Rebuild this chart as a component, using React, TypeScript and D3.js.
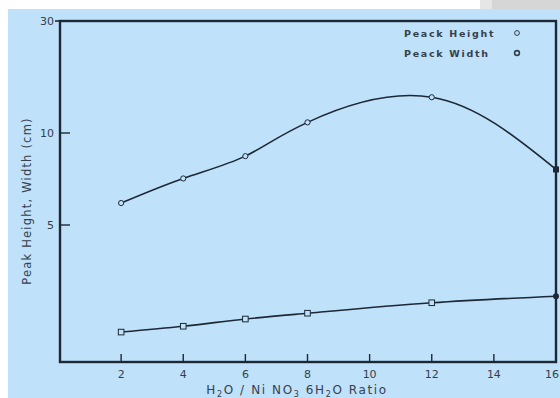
import React from "react";
import * as d3 from "d3";

// values
const ratios = [2, 4, 6, 8, 12, 16];
const peakHeight = [5.9, 7.1, 8.4, 11.1, 14.2, 7.6];
const peakWidth = [2.25, 2.35, 2.48, 2.59, 2.8, 2.94];
const xTicks = [2, 4, 6, 8, 10, 12, 14, 16];
const yTicks = [5, 10, 30];
const legendLabels = ["Peack Height", "Peack Width"];

const W = 560;
const H = 398;
const ink = "#1d2836";
const textInk = "#35404d";
const bg = "#bfe1f9";

export default function App() {
  const margin = { top: 21, right: 4, bottom: 36, left: 60 };

  const x = d3.scaleLinear().domain([0, 16]).range([margin.left - 1, W - margin.right]);
  // the printed axis is not evenly logarithmic, so map the labelled ticks piecewise
  const y = d3.scaleLog().domain([1.8, 5, 10, 30]).range([H - margin.bottom, 225, 133, margin.top]);

  const heightLine = d3.line<number>()
    .x((d, i) => x(ratios[i]))
    .y(d => y(d))
    .curve(d3.curveNatural);

  const widthLine = d3.line<number>()
    .x((d, i) => x(ratios[i]))
    .y(d => y(d))
    .curve(d3.curveMonotoneX);

  const x0 = margin.left;
  const x1 = W - margin.right;
  const y0 = margin.top;
  const y1 = H - margin.bottom;

  return (
    <svg width={W} height={H} style={{ position: "absolute", left: 0, top: 0 }}
      fontFamily="'DejaVu Sans', sans-serif">
      <rect x={0} y={0} width={W} height={H} fill="#ffffff" />
      <rect x={8} y={9} width={W - 8} height={H - 9} fill={bg} />
      <rect x={480} y={0} width={12} height={9} fill="#e6e6e6" />
      <rect x={492} y={0} width={68} height={9} fill="#d6d6d6" />

      {/* curves */}
      <path d={heightLine(peakHeight) ?? ""} fill="none" stroke={ink} strokeWidth={1.6} />
      <path d={widthLine(peakWidth) ?? ""} fill="none" stroke={ink} strokeWidth={1.6} />

      {peakHeight.map((v, i) => i < ratios.length - 1 ? (
        <circle key={"h" + i} cx={x(ratios[i])} cy={y(v)} r={2.6} fill={bg} stroke={ink} strokeWidth={1} />
      ) : (
        <rect key={"h" + i} x={x(ratios[i]) - 3} y={y(v) - 3} width={6} height={6} fill={ink} />
      ))}
      {peakWidth.map((v, i) => i < ratios.length - 1 ? (
        <rect key={"w" + i} x={x(ratios[i]) - 2.8} y={y(v) - 2.8} width={5.6} height={5.6}
          fill={bg} stroke={ink} strokeWidth={1} />
      ) : (
        <circle key={"w" + i} cx={x(ratios[i])} cy={y(v)} r={3} fill={ink} />
      ))}

      {/* frame */}
      <rect x={x0} y={y0} width={x1 - x0} height={y1 - y0} fill="none" stroke={ink} strokeWidth={2.4} />

      {/* x ticks */}
      {xTicks.map((t, i) => (
        <g key={"xt" + t}>
          <line x1={x(t)} x2={x(t)} y1={y1} y2={y1 - 8} stroke={ink} strokeWidth={1.4} />
          <text x={i === xTicks.length - 1 ? W - 1 : x(t)} y={y1 + 16}
            textAnchor={i === xTicks.length - 1 ? "end" : "middle"} fontSize={11} fill={textInk}>{t}</text>
        </g>
      ))}

      {/* y ticks */}
      {yTicks.map(t => (
        <g key={"yt" + t}>
          {t === 30 ? (
            <line x1={x0 - 5} x2={x0} y1={y(t)} y2={y(t)} stroke={ink} strokeWidth={1.6} />
          ) : (
            <line x1={x0} x2={x0 + 10} y1={y(t)} y2={y(t)} stroke={ink} strokeWidth={1.4} />
          )}
          <text x={x0 - 6} y={y(t) + 4} textAnchor="end" fontSize={11} fill={textInk}>{t}</text>
        </g>
      ))}

      {/* axis titles */}
      <text x={297} y={394} textAnchor="middle" fontSize={12} fill={textInk} letterSpacing={1.6}>
        H<tspan fontSize={8} dy={3}>2</tspan><tspan dy={-3}>O / Ni NO</tspan>
        <tspan fontSize={8} dy={3}>3</tspan><tspan dy={-3}> 6H</tspan>
        <tspan fontSize={8} dy={3}>2</tspan><tspan dy={-3}>O  Ratio</tspan>
      </text>
      <text transform="translate(31,201) rotate(-90)" textAnchor="middle" fontSize={11.5}
        fill={textInk} letterSpacing={1.2}>
        Peak Height, Width (cm)
      </text>

      {/* legend */}
      {legendLabels.map((lab, i) => (
        <g key={lab}>
          <text x={404} y={37 + i * 20} fontSize={9.5} fontWeight="bold" fill={textInk} letterSpacing={1.7}>
            {lab}
          </text>
          <circle cx={517} cy={33 + i * 20} r={2.4} fill={i === 0 ? bg : "none"}
            stroke={textInk} strokeWidth={i === 0 ? 1 : 1.6} />
        </g>
      ))}
    </svg>
  );
}
